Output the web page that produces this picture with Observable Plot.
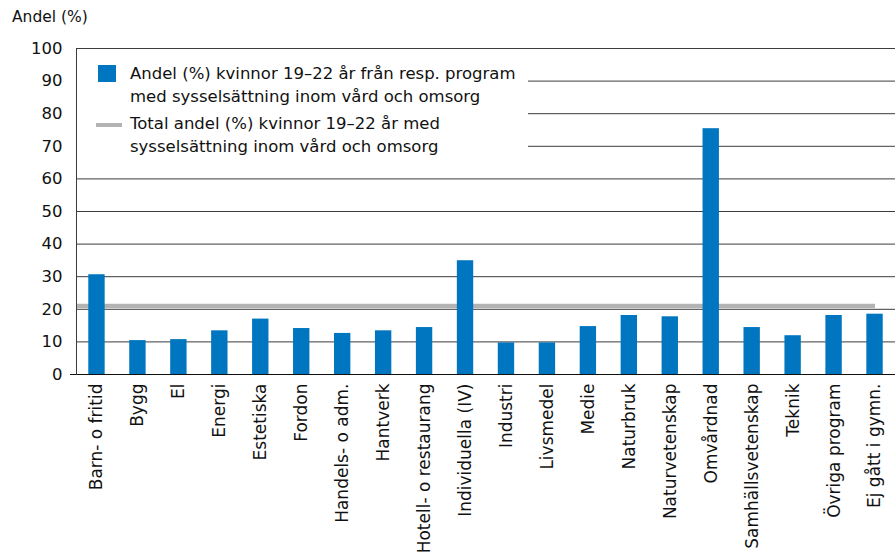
<!DOCTYPE html>
<html>
<head>
<meta charset="utf-8">
<script src="https://cdn.jsdelivr.net/npm/d3@7"></script>
<script src="https://cdn.jsdelivr.net/npm/@observablehq/plot@0.6"></script>
<style>
  body { margin: 0; background: #fff; font-family: "DejaVu Sans", sans-serif; color: #111; }
  #wrap { position: relative; width: 896px; height: 554px; }
  #title { height: 22px; padding: 8px 0 0 12px; font-size: 15.5px; line-height: 18px; }
  #legend { position: absolute; left: 77px; top: 49px; width: 451px; height: 115px; background: #fff; font-size: 16.5px; line-height: 23px; }
  #legend .sw-bar { position: absolute; left: 21px; top: 16px; width: 18px; height: 17px; background: #0076c0; }
  #legend .sw-line { position: absolute; left: 19px; top: 74px; width: 26px; height: 4px; background: #b3b3b3; }
  #legend .t1 { position: absolute; left: 53px; top: 13px; white-space: nowrap; }
  #legend .t2 { position: absolute; left: 53px; top: 63px; white-space: nowrap; }
</style>
</head>
<body>
<div id="wrap">
  <div id="title">Andel (%)</div>
  <div id="chart"></div>
  <div id="legend">
    <div class="sw-bar"></div>
    <div class="t1">Andel (%) kvinnor 19–22 år från resp. program<br>med sysselsättning inom vård och omsorg</div>
    <div class="sw-line"></div>
    <div class="t2">Total andel (%) kvinnor 19–22 år med<br>sysselsättning inom vård och omsorg</div>
  </div>
</div>
<script>
const programs = [
  "Barn- o fritid", "Bygg", "El", "Energi", "Estetiska", "Fordon",
  "Handels- o adm.", "Hantverk", "Hotell- o restaurang", "Individuella (IV)",
  "Industri", "Livsmedel", "Medie", "Naturbruk", "Naturvetenskap",
  "Omvårdnad", "Samhällsvetenskap", "Teknik", "Övriga program", "Ej gått i gymn."
];
const shares = [30.6, 10.4, 10.7, 13.4, 17.0, 14.1, 12.6, 13.4, 14.4, 34.9,
                9.7, 9.7, 14.7, 18.1, 17.7, 75.4, 14.4, 11.9, 18.1, 18.5];
const totalShare = 21;
const yTicks = [0, 10, 20, 30, 40, 50, 60, 70, 80, 90, 100];

const data = programs.map((p, i) => ({program: p, share: shares[i]}));

const chart = Plot.plot({
  width: 896,
  height: 524,
  marginTop: 18,
  marginBottom: 180,
  marginLeft: 76,
  marginRight: 1,
  style: {fontFamily: "DejaVu Sans, sans-serif", fontSize: "16.5px", color: "#111", background: "#fff"},
  x: {domain: programs, paddingInner: 0.6, paddingOuter: 0.3, round: false, label: null},
  y: {domain: [0, 100], label: null},
  marks: [
    Plot.ruleY(yTicks.filter(d => d > 0), {stroke: "#3c3c3c", strokeWidth: 1}),
    Plot.ruleY([totalShare], {stroke: "#b3b3b3", strokeWidth: 4.5, insetRight: 20}),
    Plot.barY(data, {x: "program", y: "share", fill: "#0076c0"}),
    Plot.ruleY([0], {stroke: "#111", strokeWidth: 1}),
    Plot.frame({anchor: "left", stroke: "#3c3c3c"}),
    Plot.axisY({ticks: yTicks, tickSize: 0, tickPadding: 14, label: null, fill: "#111"}),
    Plot.axisY({ticks: [0], tickSize: 6, text: null, label: null, stroke: "#111"}),
    Plot.axisX({tickRotate: -90, tickSize: 0, tickPadding: 9, label: null, fill: "#111", fontSize: 17})
  ]
});
document.getElementById("chart").appendChild(chart);
</script>
</body>
</html>
